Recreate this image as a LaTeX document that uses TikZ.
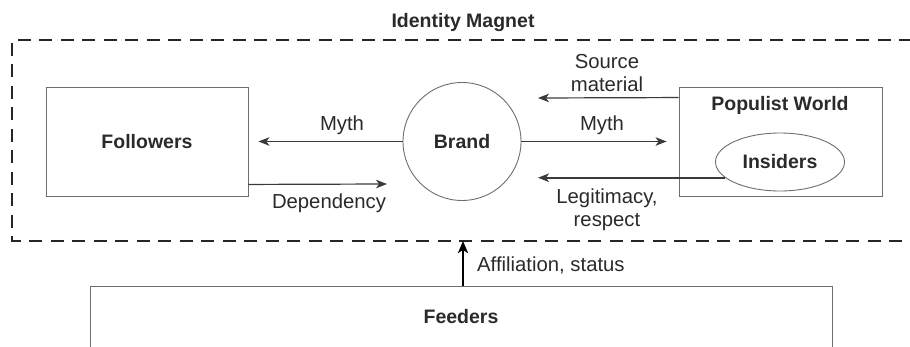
\documentclass[tikz,border=0pt]{standalone}
\usepackage{fontspec}
\setmainfont{Liberation Sans}
\usetikzlibrary{arrows.meta,shapes.geometric}
\definecolor{txt}{HTML}{2A2A2A}
\definecolor{boxline}{HTML}{6E6E6E}
\definecolor{arrline}{HTML}{3A3A3A}
\tikzset{
  boxnode/.style={draw=boxline, line width=0.9pt, inner sep=0pt},
  lab/.style={text=txt, font=\fontsize{20.3}{23}\selectfont, inner sep=0pt, align=center},
  boldlab/.style={text=txt, font=\fontsize{19.5}{23}\selectfont\bfseries, inner sep=0pt},
  arr/.style={draw=arrline, line width=1.2pt, -{Stealth[length=11pt,width=8.5pt,inset=3pt]}},
  thickarr/.style={draw=black, line width=2.4pt, -{Stealth[length=12pt,width=10pt,inset=3pt]}},
  frame/.style={draw=black!85, line width=1.8pt, dash pattern=on 13pt off 8.5pt}
}
\begin{document}
\begin{tikzpicture}[x=1pt,y=-1pt]
\useasboundingbox (0,0) rectangle (910,347);
% frame
\node[boldlab] (title) at (463,23) {Identity Magnet};
\coordinate (frTR) at (912,40);
\coordinate (frTL) at (12,40);
\coordinate (frBL) at (12,241);
\coordinate (frBR) at (912,241);
\draw[frame] (frTR) -- (frTL) -- (frBL) -- (frBR);
% nodes
\node[boxnode, minimum width=202pt, minimum height=109pt, boldlab] (followers) at (147,141.5) {Followers};
\node[boxnode, circle, minimum size=118pt, boldlab] (brand) at (462,141.5) {Brand};
\node[boxnode, minimum width=203pt, minimum height=109pt] (populist) at (780.5,141.5) {};
\node[boldlab] (poptext) at (780,105) {Populist World};
\node[boxnode, ellipse, minimum width=129pt, minimum height=58pt, boldlab] (insiders) at (780,162) {Insiders};
\node[boxnode, minimum width=742pt, minimum height=62pt, boldlab] (feeders) at (461,317) {Feeders};
% arrows
\draw[arr, shorten >=10pt] (brand.west) -- (brand.west -| followers.east);
\draw[arr, shorten >=12pt] (brand.east) -- (brand.east -| populist.west);
\node[lab] (myth1) at (342,125) {Myth};
\node[lab] (myth2) at (602,125) {Myth};
\coordinate (srcEnd) at (538,98);
\draw[arr] ([yshift=-11pt]populist.north west) -- (srcEnd);
\node[lab] (srclab) at (607,73.5) {Source\\material};
\coordinate (legEnd) at (538,178);
\draw[arr, line width=1.6pt] (insiders.196.5) -- (insiders.196.5 -| legEnd);
\node[lab] (leglab) at (607,209.5) {Legitimacy,\\respect};
\coordinate (depEnd) at (387,184);
\draw[arr] ([yshift=12pt]followers.south east) -- (depEnd);
\node[lab] (deplab) at (329,203) {Dependency};
\draw[thickarr] ([xshift=2pt]feeders.north) -- ([xshift=2pt]feeders.north |- frBL);
\node[lab, anchor=west] (afflab) at (477,265) {Affiliation, status};
\end{tikzpicture}
\end{document}
